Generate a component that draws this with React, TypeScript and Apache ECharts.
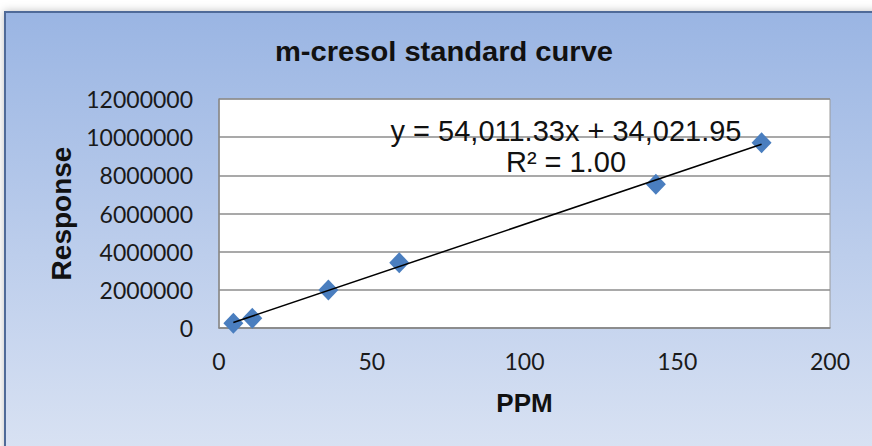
import React, { useEffect, useRef } from "react";
import * as echarts from "echarts";

// m-cresol calibration standards
const ppm = [4.7, 10.9, 35.8, 59, 143, 177.6];
const response = [250000, 510000, 1990000, 3420000, 7530000, 9710000];

// Linear trendline as reported on the chart
const slope = 54011.33;
const intercept = 34021.95;
const rSquared = 1.0;

const xTicks = { min: 0, max: 200, interval: 50 };
const yTicks = { min: 0, max: 12000000, interval: 2000000 };

const fmt = (v: number, d: number) =>
  v.toLocaleString("en-US", { minimumFractionDigits: d, maximumFractionDigits: d });

export default function App() {
  const ref = useRef<HTMLDivElement>(null);

  useEffect(() => {
    if (!ref.current) return;
    const chart = echarts.init(ref.current, undefined, { renderer: "svg" });

    const xMin = Math.min(...ppm);
    const xMax = Math.max(...ppm);
    const trend = [
      [xMin, slope * xMin + intercept],
      [xMax, slope * xMax + intercept],
    ];

    const tickFont = { fontFamily: "Lato", fontSize: 23, color: "#1a1a1a" };

    chart.setOption({
      animation: false,
      graphic: [
        {
          type: "rect",
          z: -10,
          shape: { x: 5, y: 12, width: 920, height: 470 },
          style: {
            fill: new echarts.graphic.LinearGradient(0, 0, 0, 1, [
              { offset: 0, color: "#9AB5E3" },
              { offset: 1, color: "#DDE5F4" },
            ]),
            stroke: "#4F6B98",
            lineWidth: 2,
            shadowBlur: 8,
            shadowColor: "rgba(0,0,0,0.25)",
          },
        },
        {
          type: "text",
          x: 444,
          y: 51,
          scaleX: 1.04,
          style: {
            text: "m-cresol standard curve",
            fontFamily: "Liberation Sans, Arial",
            fontWeight: "bold",
            fontSize: 28,
            fill: "#111",
            align: "center",
            verticalAlign: "middle",
          },
        },
        {
          type: "text",
          x: 566,
          y: 131,
          z: 10,
          style: {
            text: `y = ${fmt(slope, 2)}x + ${fmt(intercept, 2)}`,
            fontFamily: "Liberation Sans, Arial",
            fontSize: 29,
            fill: "#111",
            align: "center",
            verticalAlign: "middle",
          },
        },
        {
          type: "text",
          x: 566,
          y: 162,
          z: 10,
          style: {
            text: `R² = ${rSquared.toFixed(2)}`,
            fontFamily: "Liberation Sans, Arial",
            fontSize: 29,
            fill: "#111",
            align: "center",
            verticalAlign: "middle",
          },
        },
      ],
      grid: {
        left: 219,
        top: 99,
        width: 611,
        height: 229,
        show: true,
        backgroundColor: "#ffffff",
        borderColor: "#9a9a9a",
        borderWidth: 1,
        containLabel: false,
      },
      xAxis: {
        type: "value",
        ...xTicks,
        name: "PPM",
        nameLocation: "middle",
        nameGap: 75,
        nameTextStyle: {
          fontFamily: "Liberation Sans, Arial",
          fontWeight: "bold",
          fontSize: 26,
          color: "#111",
          verticalAlign: "middle",
        },
        axisLine: { show: true, lineStyle: { color: "#888", width: 1.5 } },
        axisTick: { show: false },
        splitLine: { show: false },
        axisLabel: { ...tickFont, margin: 21, formatter: (v: number) => String(v) },
      },
      yAxis: {
        type: "value",
        ...yTicks,
        name: "Response",
        nameLocation: "middle",
        nameGap: 158,
        nameTextStyle: {
          fontFamily: "Liberation Sans, Arial",
          fontWeight: "bold",
          fontSize: 28,
          color: "#111",
          verticalAlign: "middle",
        },
        axisLine: { show: true, lineStyle: { color: "#888", width: 1.5 } },
        axisTick: { show: false },
        splitLine: { show: true, lineStyle: { color: "#8c8c8c", width: 1.5 } },
        axisLabel: { ...tickFont, margin: 26, formatter: (v: number) => String(v) },
      },
      series: [
        {
          type: "scatter",
          data: ppm.map((x, i) => [x, response[i]]),
          symbol: "diamond",
          symbolSize: [20, 21],
          itemStyle: { color: "#4A7EBF", opacity: 1 },
          z: 2,
        },
        {
          type: "line",
          data: trend,
          showSymbol: false,
          symbol: "none",
          lineStyle: { color: "#000", width: 1.5 },
          z: 3,
        },
      ],
    });

    return () => chart.dispose();
  }, []);

  return (
    <div
      ref={ref}
      style={{ position: "absolute", left: 0, top: 0, width: 872, height: 446 }}
    />
  );
}
